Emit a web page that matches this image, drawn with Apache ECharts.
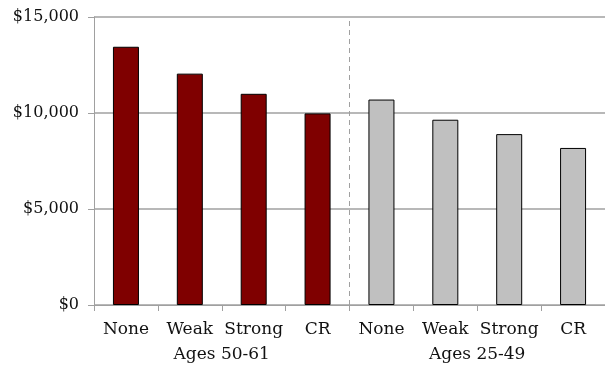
<!DOCTYPE html>
<html>
<head>
<meta charset="utf-8">
<script src="https://cdn.jsdelivr.net/npm/echarts@6/dist/echarts.min.js"></script>
<style>
  html, body { margin: 0; padding: 0; background: #fff; }
  #chart { width: 605px; height: 367px; }
</style>
</head>
<body>
<div id="chart"></div>
<script>
// Income by protection level, for two age groups
const categories = ['None', 'Weak', 'Strong', 'CR', 'None', 'Weak', 'Strong', 'CR'];
const groupLabels = ['Ages 50-61', 'Ages 25-49'];
const olderValues = [13450, 12050, 11000, 9980];
const youngerValues = [10700, 9650, 8900, 8180];
const yTicks = { min: 0, max: 15000, interval: 5000 };
// boundary between the two age groups, in category units
const groupBoundary = [4];

const gap = ['-', '-', '-', '-'];
const FONT = 'DejaVu Serif';
const AXIS_GREY = '#a0a0a0';

const chart = echarts.init(document.getElementById('chart'), null, { renderer: 'canvas' });

function money(v) {
  return '$' + v.toString().replace(/\B(?=(\d{3})+(?!\d))/g, ',');
}

chart.setOption({
  animation: false,
  backgroundColor: '#ffffff',
  grid: { left: 94, right: -3, top: 17, bottom: 62, containLabel: false },
  xAxis: [
    {
      type: 'category',
      data: categories,
      boundaryGap: true,
      axisLine: { show: true, onZero: false, lineStyle: { color: AXIS_GREY, width: 1 } },
      axisTick: { show: true, inside: false, alignWithLabel: false, interval: 0, length: 6, lineStyle: { color: AXIS_GREY, width: 1 } },
      axisLabel: { interval: 0, margin: 16, color: '#111', fontFamily: FONT, fontSize: 17 }
    },
    {
      type: 'category',
      data: groupLabels,
      position: 'bottom',
      offset: 25,
      axisLine: { show: false },
      axisTick: { show: false },
      axisLabel: { interval: 0, margin: 16, color: '#111', fontFamily: FONT, fontSize: 17 }
    },
    {
      // plain numeric scale across the categories, used for the group divider
      type: 'value',
      min: 0,
      max: categories.length,
      show: false
    }
  ],
  yAxis: {
    type: 'value',
    min: yTicks.min,
    max: yTicks.max,
    interval: yTicks.interval,
    axisLine: { show: true, lineStyle: { color: AXIS_GREY, width: 1 } },
    axisTick: { show: true, length: 6, lineStyle: { color: AXIS_GREY } },
    axisLabel: { margin: 15, color: '#111', fontFamily: FONT, fontSize: 16, formatter: money },
    splitLine: { show: true, lineStyle: { color: AXIS_GREY, width: 1.5 } }
  },
  series: [
    {
      name: groupLabels[0],
      type: 'bar',
      stack: 'all',
      xAxisIndex: 0,
      barWidth: 26,
      data: olderValues.concat(gap),
      itemStyle: { color: '#7f0000', borderColor: '#000', borderWidth: 1 }
    },
    {
      name: groupLabels[1],
      type: 'bar',
      stack: 'all',
      xAxisIndex: 0,
      barWidth: 26,
      data: gap.concat(youngerValues),
      itemStyle: { color: '#c0c0c0', borderColor: '#000', borderWidth: 1 }
    },
    {
      name: 'divider',
      type: 'line',
      xAxisIndex: 2,
      data: [],
      silent: true,
      markLine: {
        silent: true,
        symbol: ['none', 'none'],
        label: { show: false },
        lineStyle: { color: AXIS_GREY, type: [5, 4], width: 1 },
        data: groupBoundary.map(function (b) { return { xAxis: b }; })
      }
    }
  ]
});
</script>
</body>
</html>
